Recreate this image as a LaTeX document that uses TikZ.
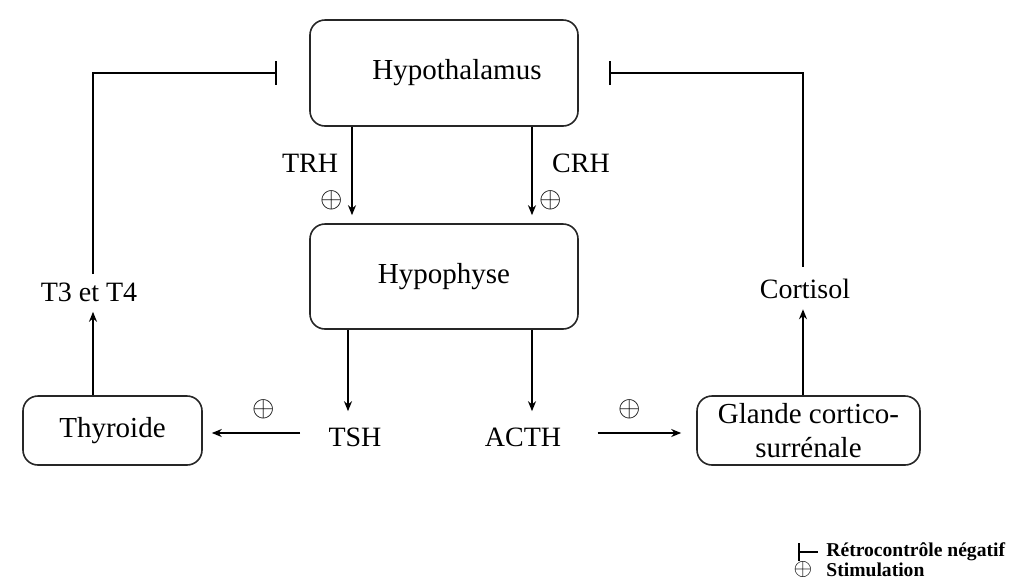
\documentclass[tikz,border=0pt]{standalone}
\usepackage{fontspec}
\setmainfont{Liberation Serif}
\usetikzlibrary{arrows.meta}
\tikzset{
  box/.style={draw=black!85, line width=0.8pt, rounded corners=7.5pt, inner sep=0pt, font=\fontsize{14.5}{17}\selectfont, align=center},
  lbl/.style={inner sep=0pt, font=\fontsize{14}{16}\selectfont},
  plus/.style={inner sep=0pt, font=\fontsize{13.5}{15}\selectfont},
  stim/.style={line width=1pt, -{Stealth[length=5pt,width=4pt]}},
  inhib/.style={line width=1pt, -{Bar[width=12pt,line width=1.2pt]}},
  leg/.style={inner sep=0pt, anchor=west, font=\fontsize{9.8}{11}\selectfont\bfseries},
}
\begin{document}
\begin{tikzpicture}[x=0.5pt,y=-0.5pt]
\useasboundingbox (0,0) rectangle (1013,579);
% boxes
\node[box, minimum width=134pt, minimum height=53pt] (hyp) at (444,73) {\hspace{13pt}Hypothalamus};
\node[box, minimum width=134pt, minimum height=52.5pt] (hyph) at (444,276.5) {Hypophyse};
\node[box, minimum width=89.5pt, minimum height=34.5pt] (thy) at (112.5,430.5) {Thyroide};
\node[box, minimum width=111.5pt, minimum height=34.5pt] (gla) at (808.5,430.5) {Glande cortico-\\surrénale};
% text nodes
\node[lbl] (trh) at (310,163) {TRH};
\node[lbl] (crh) at (581,163) {CRH};
\node[lbl] (tsh) at (355,437) {TSH};
\node[lbl] (acth) at (523,437) {ACTH};
\node[lbl] (t3) at (89,292) {T3 et T4};
\node[lbl] (cort) at (805,289) {Cortisol};
% plus signs
\node[plus] (p1) at (332,200) {$\oplus$};
\node[plus] (p2) at (551,200) {$\oplus$};
\node[plus] (p3) at (264,409) {$\oplus$};
\node[plus] (p4) at (630,409) {$\oplus$};
% arrows hypothalamus -> hypophyse
\draw[stim, shorten >=4pt] (352,0 |- hyp.south) -- (352,0 |- hyph.north);
\draw[stim, shorten >=4pt] (532,0 |- hyp.south) -- (532,0 |- hyph.north);
% hypophyse -> TSH / ACTH
\draw[stim, shorten >=8pt] (348,0 |- hyph.south) -- (348,0 |- tsh.north);
\draw[stim, shorten >=8pt] (532,0 |- hyph.south) -- (532,0 |- acth.north);
% TSH -> Thyroide, ACTH -> Glande
\draw[stim, shorten <=14pt, shorten >=4.5pt] (tsh.west |- 0,433) -- (thy.east |- 0,433);
\draw[stim, shorten <=18pt, shorten >=7.5pt] (acth.east |- 0,433) -- (gla.west |- 0,433);
% Thyroide -> T3 et T4 ; Glande -> Cortisol
\draw[stim, shorten >=5pt] (93,0 |- thy.north) -- (93,0 |- t3.south);
\draw[stim, shorten >=5pt] (803,0 |- gla.north) -- (803,0 |- cort.south);
% negative feedback
\draw[inhib, shorten <=4pt, shorten >=16pt] (93,0 |- t3.north) |- (hyp.west);
\draw[inhib, shorten <=6pt, shorten >=15pt] (803,0 |- cort.north) |- (hyp.east);
% legend
\coordinate (lb1) at (798,552);
\coordinate (lb2) at (818,552);
\draw[line width=1pt, {Bar[width=9pt,line width=1.2pt]}-] (lb1) -- (lb2);
\node[leg] (l1) at (826,552) {Rétrocontrôle négatif};
\node[plus, font=\fontsize{13}{14}\selectfont] (lp) at (803,569) {$\oplus$};
\node[leg] (l2) at (826,570) {Stimulation};
\end{tikzpicture}
\end{document}
